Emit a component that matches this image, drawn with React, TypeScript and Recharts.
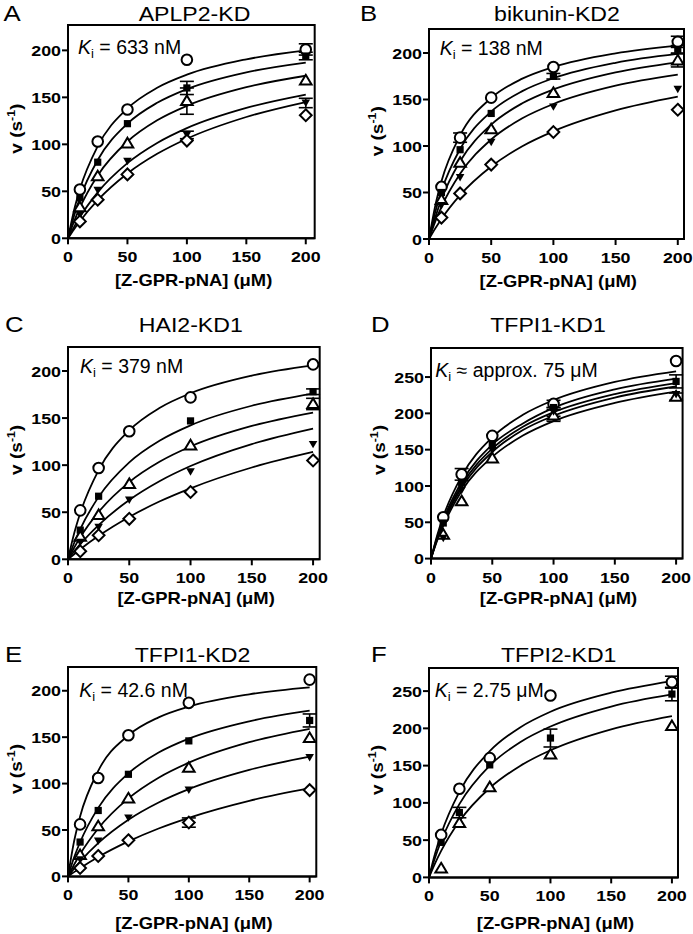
import React from 'react';
import { ComposedChart, Line, Scatter, XAxis, YAxis, ErrorBar, ReferenceArea } from 'recharts';

// substrate concentrations (µM) of the measured points and of the fitted curves
const conc = [10, 25, 50, 100, 200];
const fitConc = [0, 5, 10, 25, 50, 75, 100, 150, 200];
const xTicks = [0, 50, 100, 150, 200];
const yTicks200 = [0, 50, 100, 150, 200];
const yTicks250 = [0, 50, 100, 150, 200, 250];

// A  APLP2-KD
const aPoints = [
  [52, 103, 137, 190, 201],
  [43, 81, 122, 160, 194],
  [33, 66, 101, 146, 168],
  [25, 51, 82, 110, 144],
  [18, 41, 68, 104, 131],
];
const aErrors = [
  [0, 0, 0, 0, 6],
  [0, 0, 0, 7, 4],
  [0, 0, 0, 14, 0],
  [0, 0, 0, 4, 5],
  [0, 0, 0, 0, 0],
];
const aFits = [
  [0, 29.4, 52.2, 97.9, 138.2, 160.2, 174.1, 190.5, 200],
  [0, 23.5, 42.7, 83.3, 122, 144.2, 158.8, 176.6, 187],
  [0, 17.6, 32.6, 66.9, 103, 125.6, 141, 160.8, 173],
  [0, 11.9, 22.6, 48.9, 80, 101.5, 117.3, 138.8, 153],
  [0, 9.5, 18.2, 40.6, 69, 89.9, 106, 129.1, 145],
];

// B  bikunin-KD2
const bPoints = [
  [56, 109, 152, 185, 212],
  [50, 96, 135, 175, 204],
  [42, 82, 118, 157, 192],
  [36, 66, 104, 142, 161],
  [23, 49, 80, 115, 139],
];
const bErrors = [
  [0, 5, 0, 0, 6],
  [0, 0, 0, 3, 4],
  [0, 0, 0, 0, 7],
  [0, 0, 0, 0, 0],
  [0, 0, 0, 0, 0],
];
const bFits = [
  [0, 35.6, 62, 111.3, 151.6, 172.4, 185, 199.7, 208],
  [0, 28.9, 51.5, 96.8, 137, 159, 172.9, 189.5, 199],
  [0, 23, 42.6, 83.6, 123, 145.9, 160.8, 179.2, 190],
  [0, 18.7, 34.5, 70.1, 107, 129.8, 145.2, 164.8, 176.7],
  [0, 11.3, 21.6, 47.2, 78, 99.8, 115.8, 138.2, 153],
];

// C  HAI2-KD1
const cPoints = [
  [52, 97, 136, 172, 207],
  [31, 67, null, 147, 178],
  [24, 47, 80, 121, 165],
  [18, 34, 63, 93, 122],
  [8.5, 25.5, 43, 71.5, 105],
];
const cErrors = [
  [0, 0, 0, 0, 0],
  [0, 0, 0, 0, 3],
  [0, 0, 0, 0, 6],
  [0, 0, 0, 0, 0],
  [0, 0, 0, 0, 0],
];
const cFits = [
  [0, 27.3, 49.1, 94.7, 137, 161, 176.4, 195.1, 206],
  [0, 17.3, 32.1, 66.3, 103, 126.2, 142.3, 163.1, 176],
  [0, 12.3, 23.3, 50.3, 82, 103.8, 119.8, 141.6, 155.8],
  [0, 8.3, 16.1, 36.4, 63, 83.2, 99.1, 122.4, 138.8],
  [0, 5.4, 10.6, 24.9, 45, 61.6, 75.4, 97.5, 114],
];

// D  TFPI1-KD1
const dPoints = [
  [57, 116, 169, 213, 272],
  [49, 105, 158, 208, 244],
  [33, 79, 138, 197, 223],
  [28, 94, 149, 202, 226],
];
const dErrors = [
  [0, 8, 0, 5, 0],
  [0, 0, 0, 0, 9],
  [0, 0, 0, 8, 5],
  [0, 0, 0, 6, 0],
];
const dFits = [
  [0, 31.9, 58, 113.6, 167, 198, 218.2, 243.2, 257.8],
  [0, 29.1, 53.2, 105.4, 157, 186.1, 207.5, 232.9, 247.7],
  [0, 27.6, 50.5, 101, 151.4, 181.6, 201.6, 226.6, 241.7],
  [0, 26.4, 48.5, 97.5, 146.8, 177, 196.7, 221.8, 237],
  [0, 24.6, 45.3, 93, 140, 169.5, 189.4, 214.5, 230],
];

// E  TFPI1-KD2
const ePoints = [
  [56, 106, 152, 187, 212],
  [37, 71, 110, 146, 168],
  [23, 54, 84, 117, 149],
  [18, 38, 63, 93, 128],
  [9, 22, 39, 58, 93],
];
const eErrors = [
  [0, 0, 0, 0, 0],
  [0, 0, 0, 0, 7],
  [0, 0, 0, 0, 0],
  [0, 0, 0, 0, 0],
  [0, 0, 0, 5, 0],
];
const eFits = [
  [0, 37.6, 64.6, 113.6, 152, 171.3, 182.9, 196.2, 203.6],
  [0, 20.3, 36.8, 73.8, 111, 133.4, 148.4, 167.1, 178.5],
  [0, 12.6, 23.9, 51.6, 84, 106.3, 122.5, 144.6, 159],
  [0, 8.3, 16, 35.8, 61, 79.6, 94, 114.7, 129],
  [0, 4.6, 8.9, 20.9, 37.7, 51.6, 63.1, 81.4, 95],
];

// F  TFPI2-KD1
const fPoints = [
  [57, 119, 160, 244, 262],
  [47, 87, 151, 187, 246],
  [12, 73, 121, 165, 203],
];
const fErrors = [
  [0, 0, 0, 0, 8],
  [0, 7, 0, 12, 9],
  [0, 0, 0, 0, 0],
];
const fFits = [
  [0, 32.1, 58.3, 114.8, 169.4, 201.3, 222.3, 247.8, 263.4],
  [0, 26.4, 48.8, 98.3, 150, 181.4, 202.5, 229.3, 245.5],
  [0, 18.9, 35.5, 75.3, 120, 149.6, 170.6, 198.7, 216.4],
];

const markers5 = ['circle', 'square', 'triangle', 'down', 'diamond'];
const markers4 = ['circle', 'square', 'triangle', 'down'];
const markers3 = ['circle', 'square', 'triangle'];

const FONT = "'Liberation Sans', Arial, Helvetica, sans-serif";
const STRETCH = 1.15;
const X_LABEL = '[Z-GPR-pNA] (\u03bcM)';

type Panel = {
  letter: string;
  title: string;
  kiRest: string;
  points: (number | null)[][];
  errors: number[][];
  fits: number[][];
  markers: string[];
  yTicks: number[];
  xMax: number;
  yMax: number;
  box: number[]; // left, top, right, bottom of the plot frame
  letterPos: number[];
  titlePos: number[];
  kiPos: number[];
  xLabelY: number;
};

const panels: Panel[] = [
  {
    letter: 'A', title: 'APLP2-KD', kiRest: ' = 633 nM',
    points: aPoints, errors: aErrors, fits: aFits, markers: markers5,
    yTicks: yTicks200, xMax: 207.5, yMax: 227,
    box: [68.3, 25, 315, 238.3],
    letterPos: [3.5, 20.5], titlePos: [194.5, 20.5], kiPos: [78, 53.5], xLabelY: 286,
  },
  {
    letter: 'B', title: 'bikunin-KD2', kiRest: ' = 138 nM',
    points: bPoints, errors: bErrors, fits: bFits, markers: markers5,
    yTicks: yTicks200, xMax: 205, yMax: 225.8,
    box: [428.7, 29.3, 683.7, 239.3],
    letterPos: [360, 20.5], titlePos: [557, 20.5], kiPos: [439.7, 55], xLabelY: 286.5,
  },
  {
    letter: 'C', title: 'HAI2-KD1', kiRest: ' = 379 nM',
    points: cPoints, errors: cErrors, fits: cFits, markers: markers5,
    yTicks: yTicks200, xMax: 205.4, yMax: 225.5,
    box: [68.3, 346.7, 320, 559],
    letterPos: [5, 331.5], titlePos: [190.8, 331.5], kiPos: [80, 373.3], xLabelY: 603.5,
  },
  {
    letter: 'D', title: 'TFPI1-KD1', kiRest: ' \u2248 approx. 75 \u03bcM',
    points: dPoints, errors: dErrors, fits: dFits, markers: markers4,
    yTicks: yTicks250, xMax: 205.3, yMax: 290,
    box: [430.7, 347.7, 682.3, 558.3],
    letterPos: [371, 331.5], titlePos: [548, 331.5], kiPos: [435.3, 376.7], xLabelY: 603.5,
  },
  {
    letter: 'E', title: 'TFPI1-KD2', kiRest: ' = 42.6 nM',
    points: ePoints, errors: eErrors, fits: eFits, markers: markers5,
    yTicks: yTicks200, xMax: 205.5, yMax: 225.6,
    box: [67.7, 667.3, 316, 876.7],
    letterPos: [5, 662], titlePos: [192.5, 661.5], kiPos: [79.3, 697.3], xLabelY: 928.5,
  },
  {
    letter: 'F', title: 'TFPI2-KD1', kiRest: ' = 2.75 \u03bcM',
    points: fPoints, errors: fErrors, fits: fFits, markers: markers3,
    yTicks: yTicks250, xMax: 205, yMax: 281,
    box: [429, 668.3, 678, 877.7],
    letterPos: [371, 662], titlePos: [558.7, 661.5], kiPos: [434.7, 696.7], xLabelY: 928.5,
  },
];

function Marker({ kind, cx, cy }: { kind: string; cx: number; cy: number }) {
  if (cx == null || cy == null) return null;
  switch (kind) {
    case 'circle':
      return <circle cx={cx} cy={cy} r={5.3} fill="#fff" stroke="#000" strokeWidth={2} />;
    case 'square':
      return <rect x={cx - 3.6} y={cy - 3.6} width={7.2} height={7.2} fill="#000" />;
    case 'triangle':
      return (
        <path
          d={`M${cx},${cy - 5.6}L${cx + 5.8},${cy + 4}L${cx - 5.8},${cy + 4}Z`}
          fill="#fff" stroke="#000" strokeWidth={2}
        />
      );
    case 'down':
      return <path d={`M${cx - 4.3},${cy - 3.5}L${cx + 4.3},${cy - 3.5}L${cx},${cy + 3.9}Z`} fill="#000" />;
    default:
      return (
        <path
          d={`M${cx},${cy - 5.9}L${cx + 5.9},${cy}L${cx},${cy + 5.9}L${cx - 5.9},${cy}Z`}
          fill="#fff" stroke="#000" strokeWidth={2}
        />
      );
  }
}

function XTick(props: any) {
  const { x, y, payload } = props;
  return (
    <text
      transform={`translate(${x},${y}) scale(${STRETCH},1)`}
      textAnchor="middle" dy="0.71em"
      fontFamily={FONT} fontWeight="bold" fontSize={15.5} fill="#000"
    >
      {payload.value}
    </text>
  );
}

function YTick(props: any) {
  const { x, y, payload } = props;
  return (
    <text
      transform={`translate(${x},${y}) scale(${STRETCH},1)`}
      textAnchor="end" dy="0.36em"
      fontFamily={FONT} fontWeight="bold" fontSize={15.5} fill="#000"
    >
      {payload.value}
    </text>
  );
}

const Y_AXIS_W = 60;
const M_TOP = 10;
const M_RIGHT = 12;
const X_AXIS_H = 30;

function PanelChart({ p }: { p: Panel }) {
  const [l, t, r, b] = p.box;
  const width = Y_AXIS_W + (r - l) + M_RIGHT;
  const height = M_TOP + (b - t) + X_AXIS_H;

  const fitRows = fitConc.map((x, i) => {
    const row: Record<string, number> = { x };
    p.fits.forEach((f, k) => { row['f' + k] = f[i]; });
    return row;
  });

  return (
    <div style={{ position: 'absolute', left: l - Y_AXIS_W, top: t - M_TOP, width, height }}>
      <ComposedChart
        width={width}
        height={height}
        data={fitRows}
        margin={{ top: M_TOP, right: M_RIGHT, bottom: 0, left: 0 }}
      >
        <XAxis
          type="number" dataKey="x" domain={[0, p.xMax]} ticks={xTicks} interval={0}
          allowDataOverflow height={X_AXIS_H} tick={<XTick />} tickSize={6} tickMargin={7}
          axisLine={{ stroke: '#000', strokeWidth: 2 }} tickLine={{ stroke: '#000', strokeWidth: 2 }}
        />
        <YAxis
          type="number" domain={[0, p.yMax]} ticks={p.yTicks} interval={0}
          allowDataOverflow width={Y_AXIS_W} tick={<YTick />} tickSize={6} tickMargin={1}
          axisLine={{ stroke: '#000', strokeWidth: 2 }} tickLine={{ stroke: '#000', strokeWidth: 2 }}
        />
        <ReferenceArea
          x1={0} x2={p.xMax} y1={0} y2={p.yMax}
          fill="none" fillOpacity={0} stroke="#000" strokeWidth={2} ifOverflow="visible"
        />
        {p.fits.map((_, k) => (
          <Line
            key={'fit' + k}
            dataKey={'f' + k}
            type="monotone"
            stroke="#000"
            strokeWidth={1.8}
            dot={false}
            activeDot={false}
            isAnimationActive={false}
          />
        ))}
        {p.points.map((vals, k) => {
          const data = conc
            .map((x, i) => ({ x, y: vals[i], err: p.errors[k][i] > 0 ? p.errors[k][i] : undefined }))
            .filter((d) => d.y != null);
          const kind = p.markers[k];
          return (
            <Scatter
              key={'pts' + k}
              data={data}
              dataKey="y"
              isAnimationActive={false}
              shape={(sp: any) => <Marker kind={kind} cx={sp.cx} cy={sp.cy} />}
            >
              <ErrorBar dataKey="err" direction="y" width={7} stroke="#000" strokeWidth={1.6} />
            </Scatter>
          );
        })}
      </ComposedChart>
    </div>
  );
}

function Labels({ p }: { p: Panel }) {
  const [l, t, r, b] = p.box;
  const cx = (l + r) / 2;
  const cy = (t + b) / 2;
  return (
    <g fontFamily={FONT} fill="#000">
      <text transform={`translate(${p.letterPos[0]},${p.letterPos[1]}) scale(1.12,1)`} fontSize={23}>
        {p.letter}
      </text>
      <text
        transform={`translate(${p.titlePos[0]},${p.titlePos[1]}) scale(1.1,1)`}
        textAnchor="middle" fontSize={21}
      >
        {p.title}
      </text>
      <text x={p.kiPos[0]} y={p.kiPos[1]} fontSize={19.5}>
        <tspan fontStyle="italic">K</tspan>
        <tspan fontSize={13} dy={4}>i</tspan>
        <tspan dy={-4}>{p.kiRest}</tspan>
      </text>
      <text
        transform={`translate(${cx + 2},${p.xLabelY}) scale(${STRETCH},1)`}
        textAnchor="middle" fontSize={16} fontWeight="bold"
      >
        {X_LABEL}
      </text>
      <text
        transform={`translate(${l - 46},${cy - 3}) rotate(-90) scale(1.12,1)`}
        textAnchor="middle" fontSize={17} fontWeight="bold"
      >
        v (s<tspan fontSize={11} dy={-7}>-1</tspan><tspan dy={7}>)</tspan>
      </text>
    </g>
  );
}

export default function App() {
  return (
    <div style={{ position: 'absolute', left: 0, top: 0, width: 693, height: 934, background: '#fff' }}>
      {panels.map((p) => (
        <PanelChart key={p.letter} p={p} />
      ))}
      <svg
        width={693}
        height={934}
        style={{ position: 'absolute', left: 0, top: 0, pointerEvents: 'none' }}
      >
        {panels.map((p) => (
          <Labels key={p.letter} p={p} />
        ))}
      </svg>
    </div>
  );
}
